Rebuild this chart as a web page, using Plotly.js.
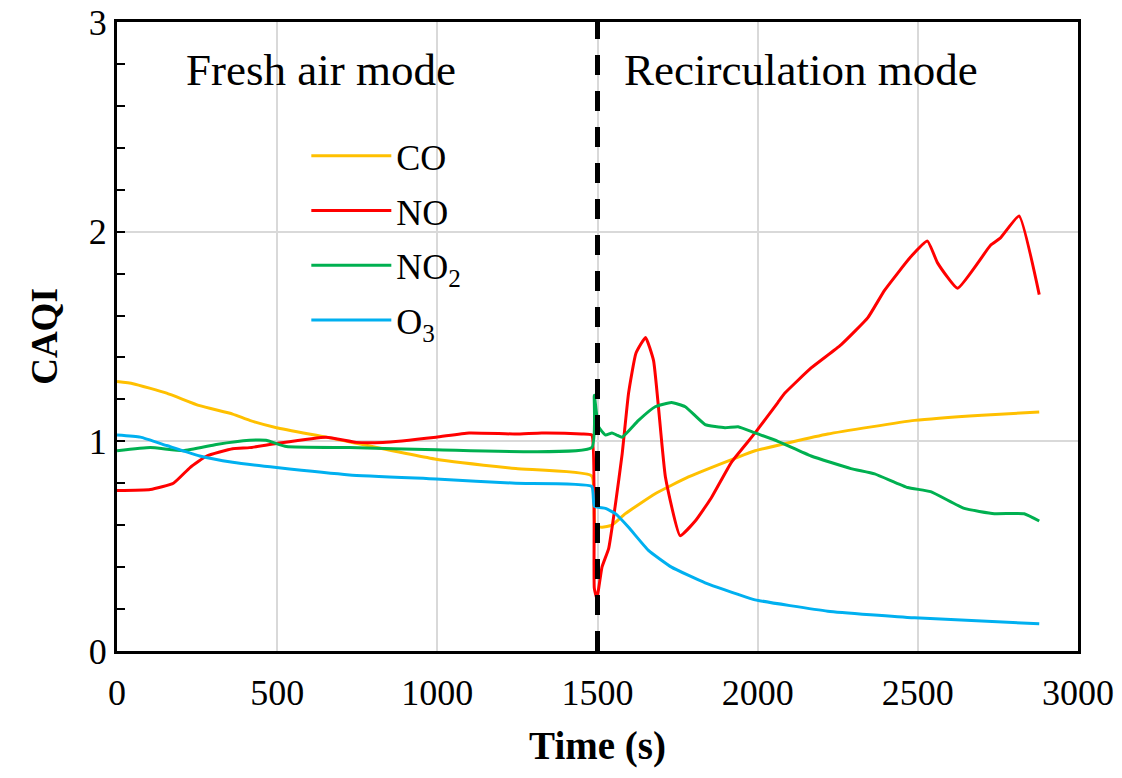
<!DOCTYPE html>
<html>
<head>
<meta charset="utf-8">
<script src="https://cdn.plot.ly/plotly-3.0.1.min.js"></script>
<style>html,body{margin:0;padding:0;background:#fff;}#chart{width:1122px;height:778px;}</style>
</head>
<body>
<div id="chart"></div>
<script>
// ---- data ----
const coTime  = [0, 50, 155, 258, 361, 414, 498, 653, 996, 1245, 1482, 1492, 1514, 1545, 1587, 1680, 1784, 1939, 1992, 2219, 2490, 2700, 2879];
const coVal   = [1.285, 1.275, 1.23, 1.17, 1.13, 1.10, 1.065, 1.02, 0.915, 0.87, 0.835, 0.60, 0.59, 0.60, 0.655, 0.75, 0.83, 0.925, 0.955, 1.035, 1.10, 1.125, 1.14];

const noTime  = [0, 104, 176, 228, 280, 361, 414, 498, 653, 747, 830, 996, 1099, 1245, 1326, 1451, 1482, 1490, 1498, 1514, 1535, 1556, 1577, 1597, 1620, 1650, 1675, 1712, 1758, 1805, 1855, 1918, 1992, 2063, 2085, 2167, 2260, 2344, 2396, 2478, 2530, 2562, 2624, 2727, 2758, 2816, 2879];
const noVal   = [0.765, 0.77, 0.80, 0.875, 0.93, 0.965, 0.97, 0.99, 1.02, 0.995, 0.995, 1.02, 1.04, 1.035, 1.04, 1.035, 1.03, 0.30, 0.25, 0.40, 0.49, 0.70, 0.94, 1.23, 1.42, 1.495, 1.385, 0.83, 0.55, 0.62, 0.73, 0.90, 1.04, 1.185, 1.23, 1.35, 1.46, 1.59, 1.72, 1.88, 1.955, 1.85, 1.73, 1.935, 1.97, 2.075, 1.70];

const no2Time = [0, 104, 207, 310, 414, 465, 529, 726, 996, 1482, 1490, 1503, 1525, 1545, 1560, 1577, 1628, 1680, 1731, 1774, 1836, 1898, 1939, 1992, 2063, 2167, 2291, 2365, 2468, 2540, 2645, 2739, 2832, 2879];
const no2Val  = [0.955, 0.97, 0.955, 0.985, 1.005, 1.005, 0.975, 0.97, 0.96, 0.97, 1.22, 1.07, 1.03, 1.04, 1.03, 1.02, 1.10, 1.165, 1.185, 1.165, 1.08, 1.065, 1.07, 1.04, 1.00, 0.93, 0.87, 0.845, 0.78, 0.76, 0.68, 0.655, 0.655, 0.62];

const o3Time  = [0, 73, 155, 258, 361, 498, 726, 996, 1245, 1482, 1490, 1525, 1556, 1597, 1659, 1731, 1836, 1939, 1992, 2219, 2490, 2879];
const o3Val   = [1.03, 1.02, 0.98, 0.93, 0.90, 0.875, 0.84, 0.82, 0.80, 0.785, 0.69, 0.68, 0.655, 0.59, 0.48, 0.40, 0.325, 0.27, 0.244, 0.19, 0.158, 0.13];

const seriesNames = ['CO', 'NO', 'NO<sub>2</sub>', 'O<sub>3</sub>'];
const modeSwitchTime = 1500;
const modeLabels = ['Fresh air mode', 'Recirculation mode'];
const modeLabelTime = [638, 2135];
const modeLabelLevel = 2.77;
const xTickVals = [0, 500, 1000, 1500, 2000, 2500, 3000];
const yTickVals = [0, 1, 2, 3];

// ---- styling ----
const colors = ['#FFC000', '#FF0000', '#00B050', '#00B0F0'];
const serif = 'Liberation Serif, Times New Roman, serif';
const times = [coTime, noTime, no2Time, o3Time];
const vals = [coVal, noVal, no2Val, o3Val];

const traces = seriesNames.map((n, i) => ({
  x: times[i], y: vals[i], name: n, type: 'scatter', mode: 'lines',
  line: {color: colors[i], width: 3, shape: 'spline', smoothing: 0.4},
  legendgroup: 'g' + i
}));

const layout = {
  width: 1122, height: 778,
  margin: {l: 117, r: 44, t: 22, b: 127},
  paper_bgcolor: '#fff', plot_bgcolor: '#fff',
  font: {family: serif, color: '#000', size: 34},
  showlegend: true,
  legend: {x: 0.197, y: 0.835, xanchor: 'left', yanchor: 'top', bgcolor: 'rgba(0,0,0,0)',
           font: {family: serif, size: 36, color: '#000'}, tracegroupgap: 5, itemwidth: 80},
  xaxis: {
    range: [0, 3000], tickvals: xTickVals, ticks: '', showgrid: true,
    gridcolor: '#d9d9d9', gridwidth: 2, zeroline: false,
    showline: true, linecolor: '#000', linewidth: 3, mirror: true,
    tickfont: {family: serif, size: 36}, ticklabelstandoff: 8,
    title: {text: '<b>Time (s)</b>', font: {family: serif, size: 39}, standoff: 20}
  },
  yaxis: {
    range: [0, 3], tickvals: yTickVals, ticks: 'inside', ticklen: 8, tickwidth: 2, tickcolor: '#000',
    showgrid: true, gridcolor: '#d9d9d9', gridwidth: 2, zeroline: false,
    showline: true, linecolor: '#000', linewidth: 3, mirror: true,
    minor: {dtick: 0.2, ticks: 'inside', ticklen: 8, tickwidth: 2, tickcolor: '#000', showgrid: false},
    tickfont: {family: serif, size: 36}, ticklabelstandoff: 0,
    title: {text: '<b>CAQI</b>', font: {family: serif, size: 37}, standoff: 20}
  },
  shapes: [{
    type: 'line', xref: 'x', yref: 'y', x0: modeSwitchTime, x1: modeSwitchTime, y0: 0, y1: 3,
    line: {color: '#000', width: 5, dash: '20px,16px'}
  }],
  annotations: modeLabels.map((t, i) => ({
    text: t, x: modeLabelTime[i], y: modeLabelLevel, xref: 'x', yref: 'y',
    showarrow: false, font: {family: serif, size: 45, color: '#000'}
  }))
};

Plotly.newPlot('chart', traces, layout, {displayModeBar: false, staticPlot: true});
</script>
</body>
</html>
